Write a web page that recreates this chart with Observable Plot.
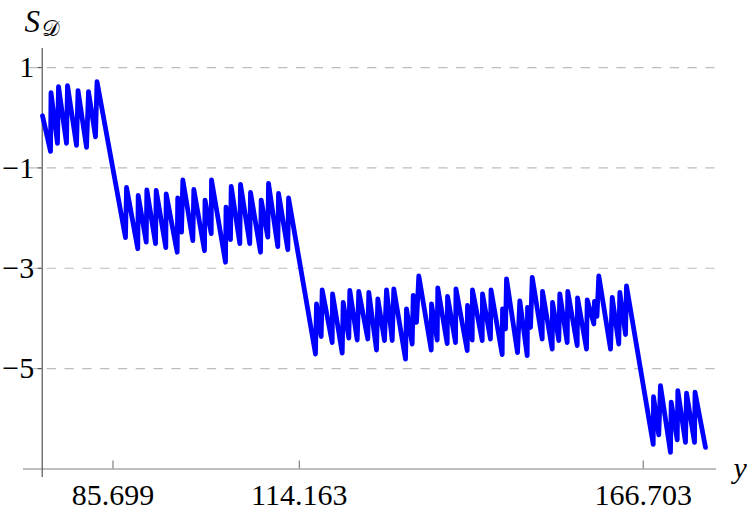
<!DOCTYPE html>
<html><head><meta charset="utf-8">
<script src="https://cdn.jsdelivr.net/npm/d3@7"></script>
<script src="https://cdn.jsdelivr.net/npm/@observablehq/plot@0.6"></script>
<style>html,body{margin:0;padding:0;background:#fff}</style>
</head><body><div id="chart"></div>
<script>
// y (abscissa) values of the traced curve
const tValues = [74.93, 76.16, 76.23, 77.22, 77.38, 78.60, 78.75, 80.13, 80.36, 81.66, 81.96, 83.03, 83.26,
87.61, 87.77, 89.49, 89.55, 90.78, 90.87, 92.20, 92.30, 93.77, 93.83, 95.51, 95.59, 96.17, 96.37, 97.90, 98.05, 99.68, 99.76, 100.71, 100.75, 102.89, 102.97, 103.65, 103.76, 105.08, 105.18, 106.60, 106.71, 108.24, 108.34, 109.35, 109.46, 110.88, 110.99, 112.41, 112.52,
116.64, 116.79, 117.51, 117.66, 119.19, 119.24, 120.72, 120.87, 121.73, 121.88, 123.01, 123.25, 124.63, 124.78, 125.96, 126.16, 127.18, 127.49, 128.36, 128.60, 130.39, 130.54, 131.41, 131.57, 132.07, 132.42, 134.32, 134.36, 135.23, 135.32, 136.76, 136.81, 138.03, 138.10, 139.82, 139.86, 140.58, 140.62, 142.11, 142.15, 143.37, 143.45, 145.16, 145.21, 145.67, 145.82, 147.50, 147.85, 148.98, 149.03, 149.49, 149.75, 151.27, 151.32, 152.80, 152.85, 153.81, 153.96, 155.09, 155.18, 156.62, 156.67, 158.04, 158.15, 159.16, 159.26, 159.64, 159.92, 161.71, 161.97, 162.97, 163.13, 164.00, 164.15,
168.23, 168.28, 169.08, 169.34, 170.87, 170.98, 171.90, 171.99, 173.16, 173.32, 174.54, 174.62, 176.22];
// S_D values
const sValues = [0.04, -0.67, 0.50, -0.51, 0.62, -0.51, 0.64, -0.55, 0.54, -0.59, 0.52, -0.38, 0.72,
-2.39, -1.39, -2.61, -1.55, -2.48, -1.44, -2.51, -1.45, -2.59, -1.52, -2.68, -1.60, -2.28, -1.24, -2.45, -1.43, -2.65, -1.64, -2.31, -1.24, -2.88, -1.78, -2.43, -1.37, -2.51, -1.33, -2.51, -1.49, -2.68, -1.64, -2.38, -1.31, -2.57, -1.51, -2.63, -1.60,
-4.71, -3.71, -4.36, -3.43, -4.48, -3.51, -4.69, -3.68, -4.39, -3.44, -4.43, -3.46, -4.41, -3.48, -4.63, -3.61, -4.44, -3.43, -4.44, -3.41, -4.81, -3.81, -4.51, -3.54, -4.08, -3.15, -4.63, -3.71, -4.43, -3.39, -4.50, -3.56, -4.48, -3.41, -4.64, -3.74, -4.43, -3.43, -4.44, -3.51, -4.41, -3.43, -4.72, -3.81, -4.21, -3.21, -4.68, -3.65, -4.74, -3.78, -4.18, -3.18, -4.41, -3.46, -4.61, -3.68, -4.44, -3.51, -4.48, -3.46, -4.54, -3.59, -4.61, -3.63, -4.11, -3.66, -3.96, -3.15, -4.61, -3.58, -4.51, -3.48, -4.32, -3.35,
-6.51, -5.56, -6.32, -5.34, -6.67, -5.67, -6.42, -5.44, -6.47, -5.49, -6.47, -5.47, -6.57];

const xTickValues = [85.699, 114.163, 166.703];
const xTickLabels = ["85.699", "114.163", "166.703"];
const yTickValues = [1, -1, -3, -5];
const yTickLabels = ["1", "\u22121", "\u22123", "\u22125"];
const xDomain = [72.03, 177.9];
const yDomain = [-7.17, 1.38];
const xAxisAt = -7;      // S value where the horizontal axis sits
const yAxisAt = 74.89;   // y value where the vertical axis sits

const data = tValues.map((t, i) => ({t, s: sValues[i]}));
const font = "'Liberation Serif', 'Times New Roman', serif";

const chart = Plot.plot({
  width: 747, height: 511,
  marginLeft: 23, marginRight: 31, marginTop: 48, marginBottom: 34,
  x: {domain: xDomain, axis: null},
  y: {domain: yDomain, axis: null},
  style: {fontFamily: font, background: "#fff", color: "#000"},
  marks: [
    Plot.ruleY(yTickValues, {stroke: "#bdbdbd", strokeWidth: 1.2, strokeDasharray: "9.3,8.5", strokeDashoffset: 11.9}),
    Plot.ruleY([xAxisAt], {stroke: "#a8a8a8", strokeWidth: 1.5}),
    Plot.ruleX([yAxisAt], {stroke: "#555", strokeWidth: 1.2}),
    Plot.ruleX(xTickValues, {y1: xAxisAt, y2: xAxisAt, insetTop: -8, stroke: "#666", strokeWidth: 1}),
    Plot.ruleY(yTickValues, {x1: yAxisAt, x2: yAxisAt, insetLeft: -4, stroke: "#555", strokeWidth: 1.2}),
    Plot.line(data, {x: "t", y: "s", stroke: "#0000ff", strokeWidth: 4.8}),
    Plot.text(yTickValues, {x: yAxisAt, y: d => d, text: (d, i) => yTickLabels[i], textAnchor: "end", dx: -8, fontSize: 30, fill: "#000"}),
    Plot.text(xTickValues, {x: d => d, y: xAxisAt, text: (d, i) => xTickLabels[i], dy: 26, fontSize: 30, fill: "#000"}),
    Plot.text(["y"], {x: xDomain[1], y: xAxisAt, text: d => d, textAnchor: "start", dx: 17, dy: -1, fontSize: 30, fontStyle: "italic", fill: "#000"}),
    Plot.text(["S"], {frameAnchor: "top-left", lineAnchor: "middle", text: d => d, textAnchor: "start", dx: 1, dy: -26, fontSize: 31, fontStyle: "italic", fill: "#000"}),
    Plot.text(["\uD835\uDC9F"], {frameAnchor: "top-left", lineAnchor: "middle", text: d => d, textAnchor: "start", dx: 18, dy: -20, fontSize: 22, fill: "#000"})
  ]
});
document.getElementById("chart").appendChild(chart);
</script>
</body></html>
